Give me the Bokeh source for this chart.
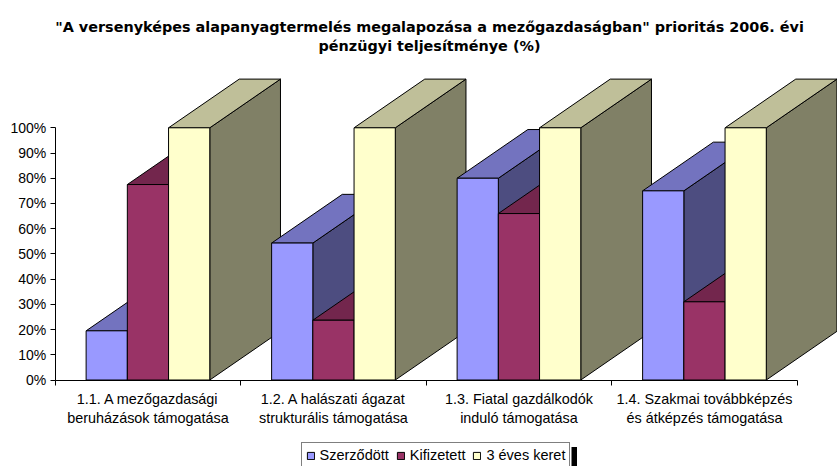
from bokeh.plotting import figure
from bokeh.models import (ColumnDataSource, FixedTicker, Legend, LegendItem, LinearAxis,
                          Range1d, Label, BoxAnnotation)
from bokeh.embed import file_html
from bokeh.resources import INLINE

title_lines = ['"A versenyképes alapanyagtermelés megalapozása a mezőgazdaságban" prioritás 2006. évi',
               'pénzügyi teljesítménye (%)']
categories = ["1.1. A mezőgazdasági\nberuházások támogatása",
              "1.2. A halászati ágazat\nstrukturális támogatása",
              "1.3. Fiatal gazdálkodók\ninduló támogatása",
              "1.4. Szakmai továbbképzés\nés átképzés támogatása"]
series_names = ["Szerződött", "Kifizetett", "3 éves keret"]
szerzodott = [19.5, 54.3, 80.0, 75.0]
kifizetett = [77.5, 23.7, 66.0, 31.0]
keret = [100, 100, 100, 100]
front_colors = ["#9999FF", "#993366", "#FFFFCC"]
top_colors = ["#7373BF", "#73264D", "#BFBF99"]
side_colors = ["#4D4D80", "#4D1A33", "#808066"]

W, H = 837, 466
X0_PX, Y0_PX = 54.7, 379.5
X_PX = 185.5
Y_PX = 2.522
BAR_OFF, BAR_W = 1 / 6, 2 / 9
DX, DY = 70.7 / X_PX, 48.7 / Y_PX


def px_x(px):
    return (px - X0_PX) / X_PX


def px_y(py):
    return (Y0_PX - py) / Y_PX


p = figure(width=W, height=H, output_backend="svg", toolbar_location=None,
           x_range=Range1d(px_x(0), px_x(W)), y_range=Range1d(px_y(H), px_y(0)),
           x_axis_type=None, y_axis_type=None, min_border=0, outline_line_color=None,
           margin=0)
p.grid.visible = False

for line, py in zip(title_lines, [26.5, 45.5]):
    p.add_layout(Label(x=px_x(429), y=px_y(py), text=line,
                       text_align="center", text_baseline="middle", text_font="DejaVu Sans",
                       text_font_size="14.4px", text_font_style="bold", text_color="#000000"))

xs, ys, fills, front_index = [], [], [], {}
values = [szerzodott, kifizetett, keret]
for c in range(len(categories)):
    for s, vals in enumerate(values):
        x0 = c + BAR_OFF + s * BAR_W
        x1 = x0 + BAR_W
        v = vals[c]
        xs.append([x1, x1 + DX, x1 + DX, x1]); ys.append([0, DY, v + DY, v]); fills.append(side_colors[s])
        xs.append([x0, x1, x1 + DX, x0 + DX]); ys.append([v, v, v + DY, v + DY]); fills.append(top_colors[s])
        xs.append([x0, x1, x1, x0]); ys.append([0, 0, v, v]); fills.append(front_colors[s])
        front_index.setdefault(s, len(xs) - 1)

src = ColumnDataSource(dict(xs=xs, ys=ys, fill=fills))
r = p.patches("xs", "ys", source=src, fill_color="fill", line_color="#000000", line_width=1)

yaxis = LinearAxis(ticker=FixedTicker(ticks=list(range(0, 101, 10))), bounds=(0, 100), fixed_location=0,
                   major_label_overrides={v: f"{v}%" for v in range(0, 101, 10)},
                   major_tick_in=0, major_tick_out=5, minor_tick_line_color=None,
                   major_label_standoff=4, major_label_text_font="Liberation Sans",
                   major_label_text_font_size="14px", major_label_text_color="#000000",
                   axis_line_color="#000000", major_tick_line_color="#000000")
p.add_layout(yaxis, "left")

xaxis = LinearAxis(ticker=FixedTicker(ticks=[i + 0.5 for i in range(4)], minor_ticks=list(range(5))),
                   bounds=(0, 4), fixed_location=0,
                   major_label_overrides={i + 0.5: categories[i] for i in range(4)},
                   major_tick_in=0, major_tick_out=0, minor_tick_in=0, minor_tick_out=5,
                   major_label_standoff=6, major_label_text_font="Liberation Sans",
                   major_label_text_font_size="14.4px", major_label_text_color="#000000",
                   axis_line_color="#000000", minor_tick_line_color="#000000",
                   major_label_text_align="center")
p.add_layout(xaxis, "below")

p.add_layout(BoxAnnotation(left=px_x(571), right=px_x(576.5), top=px_y(446.5), bottom=px_y(H),
                           fill_color="#000000", fill_alpha=1, line_color=None))

legend = Legend(items=[LegendItem(label=series_names[i], renderers=[r], index=front_index[i]) for i in range(3)],
                orientation="horizontal", location=(300.5, -2),
                border_line_color="#000000", border_line_width=1, background_fill_alpha=1,
                label_text_font="Liberation Sans", label_text_font_size="14.5px",
                label_text_color="#000000", glyph_width=9, glyph_height=9,
                label_standoff=5, spacing=7, padding=4, margin=0, label_height=14)
p.add_layout(legend)

open("out.html", "w").write(file_html(p, INLINE))
